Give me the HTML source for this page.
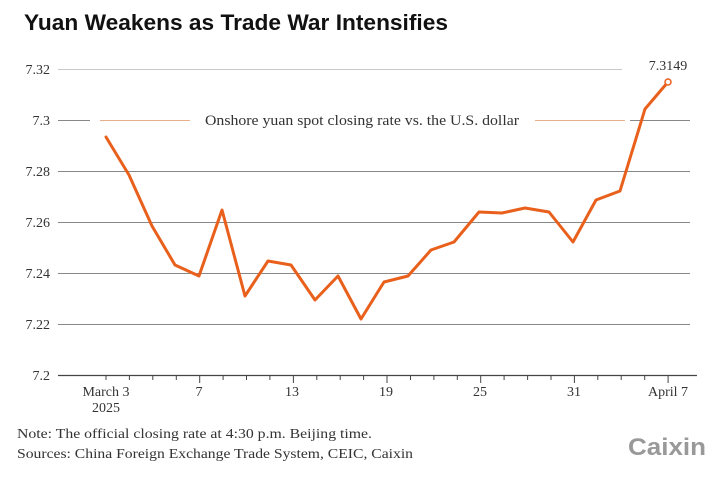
<!DOCTYPE html>
<html><head><meta charset="utf-8"><style>
html,body{margin:0;padding:0;background:#fff;width:725px;height:477px;overflow:hidden}
</style></head><body>
<svg width="725" height="477" xmlns="http://www.w3.org/2000/svg" style="display:block">
<text x="24" y="30" font-family="Liberation Sans, sans-serif" font-weight="bold" font-size="22" fill="#111" textLength="424" lengthAdjust="spacingAndGlyphs">Yuan Weakens as Trade War Intensifies</text>
<g font-family="Liberation Serif, serif" font-size="14" fill="#333" text-anchor="end">
<text x="50" y="74">7.32</text>
<text x="50" y="125">7.3</text>
<text x="50" y="176">7.28</text>
<text x="50" y="227">7.26</text>
<text x="50" y="278">7.24</text>
<text x="50" y="329">7.22</text>
<text x="50" y="380">7.2</text>
</g>
<g stroke="#c8c8c8" stroke-width="1">
<line x1="58" y1="69.5" x2="622" y2="69.5"/>
</g>
<g stroke="#888" stroke-width="1">
<line x1="58" y1="120.5" x2="90" y2="120.5"/>
<line x1="630" y1="120.5" x2="690" y2="120.5"/>
<line x1="58" y1="171.5" x2="690" y2="171.5"/>
<line x1="58" y1="222.5" x2="690" y2="222.5"/>
<line x1="58" y1="273.5" x2="690" y2="273.5"/>
<line x1="58" y1="324.5" x2="690" y2="324.5"/>
</g>
<line x1="58" y1="375.5" x2="697" y2="375.5" stroke="#444" stroke-width="1.2"/>
<g stroke="#e8b08a" stroke-width="1">
<line x1="100" y1="120.5" x2="190" y2="120.5"/>
<line x1="535" y1="120.5" x2="625" y2="120.5"/>
</g>
<text x="205" y="125" font-family="Liberation Serif, serif" font-size="15" fill="#333" textLength="314" lengthAdjust="spacingAndGlyphs">Onshore yuan spot closing rate vs. the U.S. dollar</text>
<g stroke="#444" stroke-width="1" id="ticks"></g>
<polyline fill="none" stroke="#e8601c" stroke-width="3" stroke-linejoin="round" stroke-linecap="round" points="106,137 129,175 152,226 175,265 199,276 222,210 245,296 268,261 291,265 315,300 338,276 361,319 384,282 408,276 431,250 454,242 479,212 502,213 525,208 549,212 573,242 596,200 620,191 645,109 668,82"/>
<circle cx="668" cy="82" r="3" fill="#fff" stroke="#e8601c" stroke-width="1.5"/>
<text x="668" y="70" text-anchor="middle" font-family="Liberation Serif, serif" font-size="14" fill="#333">7.3149</text>
<g font-family="Liberation Serif, serif" font-size="14" fill="#333" text-anchor="middle">
<text x="106" y="396">March 3</text>
<text x="106" y="412">2025</text>
<text x="199" y="396">7</text>
<text x="292" y="396">13</text>
<text x="386" y="396">19</text>
<text x="480" y="396">25</text>
<text x="574" y="396">31</text>
<text x="668" y="396">April 7</text>
</g>
<g font-family="Liberation Serif, serif" font-size="14" fill="#333">
<text x="17" y="438" textLength="355" lengthAdjust="spacingAndGlyphs">Note: The official closing rate at 4:30 p.m. Beijing time.</text>
<text x="17" y="458" textLength="396" lengthAdjust="spacingAndGlyphs">Sources: China Foreign Exchange Trade System, CEIC, Caixin</text>
</g>
<text x="628" y="455" font-family="Liberation Sans, sans-serif" font-weight="bold" font-size="24" fill="#999" textLength="78" lengthAdjust="spacingAndGlyphs">Caixin</text>
<script>
var g=document.getElementById('ticks');
for(var i=0;i<25;i++){var x=106+i*23.42;var major=(i%4==0&&i>0);
var l=document.createElementNS('http://www.w3.org/2000/svg','line');
l.setAttribute('x1',x.toFixed(1));l.setAttribute('x2',x.toFixed(1));
l.setAttribute('y1','375');l.setAttribute('y2',major?'383':'380');g.appendChild(l);}
</script>
</svg>
</body></html>
